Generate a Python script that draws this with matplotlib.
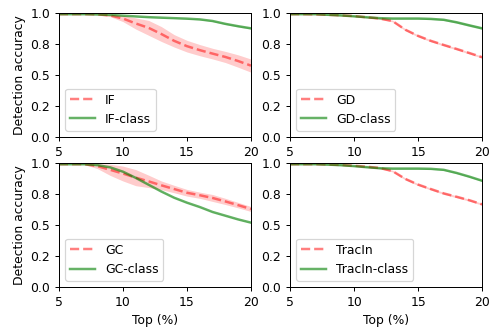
import numpy as np
import matplotlib
matplotlib.use("Agg")
import matplotlib.pyplot as plt

top_pct = [5, 6, 7, 8, 9, 10, 11, 12, 13, 14, 15, 16, 17, 18, 19, 20]

if_mean = [0.99, 0.99, 0.99, 0.988, 0.98, 0.955, 0.915, 0.88, 0.83, 0.775, 0.732, 0.70, 0.672, 0.645, 0.612, 0.575]
if_std = [0, 0, 0, 0.003, 0.01, 0.025, 0.045, 0.06, 0.06, 0.05, 0.047, 0.045, 0.043, 0.045, 0.05, 0.053]
if_class = [0.99, 0.99, 0.99, 0.988, 0.984, 0.978, 0.972, 0.966, 0.962, 0.958, 0.954, 0.948, 0.935, 0.912, 0.893, 0.876]
if_class_std = [0.002, 0.002, 0.002, 0.002, 0.002, 0.002, 0.002, 0.003, 0.003, 0.003, 0.004, 0.004, 0.005, 0.006, 0.007, 0.007]

gd_mean = [0.99, 0.99, 0.988, 0.985, 0.98, 0.975, 0.965, 0.955, 0.935, 0.865, 0.815, 0.775, 0.742, 0.71, 0.677, 0.643]
gd_std = [0.002, 0.002, 0.002, 0.003, 0.003, 0.004, 0.005, 0.006, 0.007, 0.008, 0.008, 0.008, 0.008, 0.008, 0.008, 0.008]
gd_class = [0.99, 0.99, 0.99, 0.985, 0.98, 0.973, 0.965, 0.958, 0.955, 0.955, 0.955, 0.952, 0.945, 0.925, 0.90, 0.876]
gd_class_std = [0.002, 0.002, 0.002, 0.003, 0.003, 0.004, 0.004, 0.005, 0.005, 0.005, 0.005, 0.006, 0.007, 0.008, 0.009, 0.009]

gc_mean = [0.99, 0.99, 0.99, 0.975, 0.945, 0.915, 0.882, 0.852, 0.82, 0.79, 0.76, 0.74, 0.718, 0.69, 0.66, 0.629]
gc_std = [0, 0, 0.003, 0.02, 0.045, 0.06, 0.065, 0.05, 0.035, 0.03, 0.027, 0.025, 0.028, 0.025, 0.022, 0.02]
gc_class = [0.99, 0.99, 0.99, 0.983, 0.965, 0.93, 0.88, 0.825, 0.77, 0.72, 0.68, 0.645, 0.605, 0.575, 0.545, 0.519]
gc_class_std = [0.002] * 16

tr_mean = [0.99, 0.99, 0.99, 0.988, 0.984, 0.978, 0.97, 0.96, 0.935, 0.872, 0.826, 0.79, 0.755, 0.728, 0.70, 0.667]
tr_std = [0.002, 0.002, 0.002, 0.003, 0.003, 0.004, 0.005, 0.006, 0.007, 0.008, 0.008, 0.008, 0.008, 0.008, 0.008, 0.008]
tr_class = [0.99, 0.99, 0.99, 0.987, 0.982, 0.975, 0.966, 0.958, 0.955, 0.955, 0.955, 0.953, 0.945, 0.92, 0.89, 0.857]
tr_class_std = [0.002, 0.002, 0.002, 0.003, 0.003, 0.004, 0.004, 0.005, 0.005, 0.005, 0.005, 0.005, 0.006, 0.006, 0.006, 0.006]

methods = ["IF", "GD", "GC", "TracIn"]
means = [if_mean, gd_mean, gc_mean, tr_mean]
stds = [if_std, gd_std, gc_std, tr_std]
class_means = [if_class, gd_class, gc_class, tr_class]
class_stds = [if_class_std, gd_class_std, gc_class_std, tr_class_std]

DPI = 89.3
fig, axes = plt.subplots(2, 2, figsize=(495 / DPI, 332 / DPI), dpi=DPI)
fig.subplots_adjust(left=0.119, right=0.974, top=0.961, bottom=0.1355,
                    wspace=0.203, hspace=0.21)

x = np.array(top_pct)
yt = [0, 0.25, 0.5, 0.75, 1.0]
for i, ax in enumerate(axes.flat):
    m = np.array(means[i]); s = np.array(stds[i])
    cm = np.array(class_means[i]); cs = np.array(class_stds[i])
    ax.plot(x, m, color="red", alpha=0.5, linestyle="--", linewidth=2, label=methods[i])
    ax.fill_between(x, m - s, m + s, color="red", alpha=0.2, linewidth=0)
    ax.plot(x, cm, color="green", alpha=0.6, linestyle="-", linewidth=2, label=methods[i] + "-class")
    ax.fill_between(x, cm - cs, cm + cs, color="green", alpha=0.2, linewidth=0)
    ax.set_xlim(5, 20)
    ax.set_ylim(0, 1)
    ax.set_xticks([5, 10, 15, 20])
    ax.set_yticks(yt)
    ax.set_yticklabels(["%.1f" % v for v in yt])
    ax.legend(loc="lower left")
    if i % 2 == 0:
        ax.set_ylabel("Detection accuracy")
    if i >= 2:
        ax.set_xlabel("Top (%)")

fig.savefig("out.png", dpi=DPI)
